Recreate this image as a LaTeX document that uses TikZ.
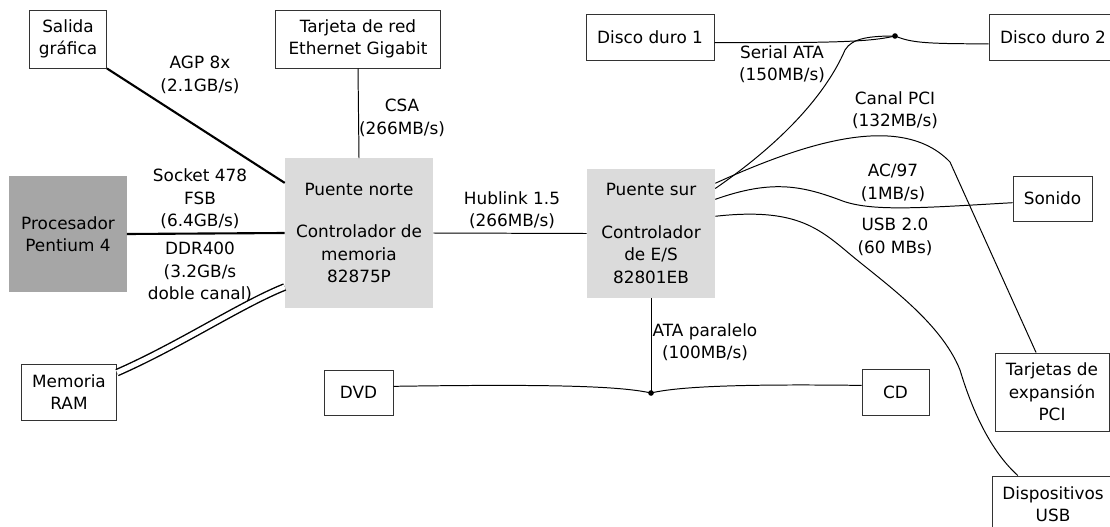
\documentclass[tikz,border=0pt]{standalone}
\usepackage{fontspec}
\setmainfont{DejaVu Sans}

\begin{document}
\begin{tikzpicture}[x=0.025cm,y=-0.025cm,
    every node/.style={font=\fontsize{12}{16}\selectfont, align=center},
    caja/.style={draw=black!80, line width=0.7pt, fill=white, inner sep=0pt},
    chip/.style={fill=black!14, inner sep=0pt},
    rot/.style={inner sep=0pt},
    bus/.style={line width=0.7pt},
    fat/.style={line width=1.5pt}]
  \useasboundingbox (0,0) rectangle (1110,526);

  % cajas
  \node[caja, minimum width=1.925cm, minimum height=1.45cm] (sal) at (68,39) {Salida\\gráfica};
  \node[caja, minimum width=4.1cm, minimum height=1.45cm] (red) at (358,39) {Tarjeta de red\\Ethernet Gigabit};
  \node[caja, minimum width=3.2cm, minimum height=1.15cm] (dd1) at (650,37) {Disco duro 1};
  \node[caja, minimum width=3.2cm, minimum height=1.15cm] (dd2) at (1053,37) {Disco duro 2};
  \node[chip, fill=black!35, minimum width=2.925cm, minimum height=2.9cm] (cpu) at (68,234) {Procesador\\Pentium 4};
  \node[chip, minimum width=3.7cm, minimum height=3.725cm] (pn) at (359,233) {Puente norte\\[14pt]Controlador de\\memoria\\82875P};
  \node[chip, minimum width=3.2cm, minimum height=3.2cm] (ps) at (651,233.5) {Puente sur\\[14pt]Controlador\\de E/S\\82801EB};
  \node[caja, minimum width=2.375cm, minimum height=1.4cm] (ram) at (69,392) {Memoria\\RAM};
  \node[caja, minimum width=1.725cm, minimum height=1.125cm] (dvd) at (358.5,392.5) {DVD};
  \node[caja, minimum width=1.675cm, minimum height=1.15cm] (cd) at (895.5,392) {CD};
  \node[caja, minimum width=1.975cm, minimum height=1.125cm] (son) at (1052.5,198.5) {Sonido};
  \node[caja, minimum width=2.85cm, minimum height=1.95cm] (pci) at (1052,392) {Tarjetas de\\expansión\\PCI};
  \node[caja, minimum width=3.05cm, minimum height=1.4cm] (usb) at (1053,504) {Dispositivos\\USB};

  \coordinate (sdot) at (895,36);
  \coordinate (adot) at (651,393);

  % puente norte
  \draw[fat] (sal.south east) -- (pn.146);
  \draw[bus] (red.south) -- (pn.north);
  \draw[fat] (cpu.east) -- (pn.west);
  \draw[double, line width=1pt, double distance=3.5pt] (ram.22.6) .. controls (180,345) and (240,305) .. (pn.216.3);
  \draw[bus] (pn.east) -- (ps.west);

  % puente sur
  \draw[bus] (ps.south) -- (adot);
  \draw[bus] (dvd.10.7) .. controls (550,384) and (620,386) .. (adot);
  \draw[bus] (cd.169.8) .. controls (750,384) and (680,386) .. (adot);
  \draw[bus] (dd1.-5.4) .. controls (830,43) and (870,42) .. (sdot);
  \draw[bus] (sdot) .. controls (910,42) and (920,44) .. (dd2.186.2);
  \draw[bus] (ps.35.4) .. controls (800,130) and (832,80) .. (845,50)
    .. controls (852,38) and (870,36) .. (sdot);
  \draw[bus] (ps.38.3) .. controls (800,145) and (900,110) .. (950,162) -- (pci.112.3);
  \draw[bus] (ps.28.3) .. controls (770,180) and (800,185) .. (840,200)
    .. controls (870,212) and (920,208) .. (son.186.9);
  \draw[bus] (ps.15.3) .. controls (790,208) and (815,225) .. (845,250)
    .. controls (880,280) and (940,320) .. (960,370)
    .. controls (975,420) and (995,455) .. (usb.141.3);
  \fill (sdot) circle (0.07cm);
  \fill (adot) circle (0.07cm);

  % rotulos
  \node[rot] (agp) at (200,75) {AGP 8x\\(2.1GB/s)};
  \node[rot] (csa) at (402,118) {CSA\\(266MB/s)};
  \node[rot] (fsb) at (200,199) {Socket 478\\FSB\\(6.4GB/s)};
  \node[rot] (ddr) at (200,272) {DDR400\\(3.2GB/s\\doble canal)};
  \node[rot] (hub) at (512,210) {Hublink 1.5\\(266MB/s)};
  \node[rot] (sata) at (782,64) {Serial ATA\\(150MB/s)};
  \node[rot] (pcib) at (895,110) {Canal PCI\\(132MB/s)};
  \node[rot] (ac) at (893,183) {AC/97\\(1MB/s)};
  \node[rot] (usbb) at (895,237) {USB 2.0\\(60 MBs)};
  \node[rot] (ata) at (705,342) {ATA paralelo\\(100MB/s)};
\end{tikzpicture}
\end{document}
